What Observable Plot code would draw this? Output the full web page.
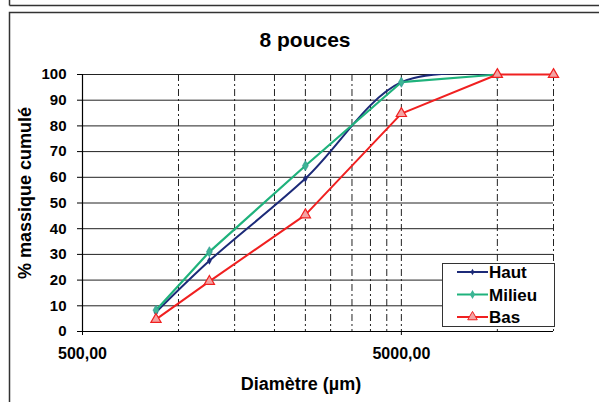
<!DOCTYPE html>
<html>
<head>
<meta charset="utf-8">
<script src="https://cdn.jsdelivr.net/npm/d3@7"></script>
<script src="https://cdn.jsdelivr.net/npm/@observablehq/plot@0.6"></script>
<style>
  body { margin: 0; background: #fff; }
  #chart { position: relative; width: 599px; height: 402px; overflow: hidden; }
</style>
</head>
<body>
<div id="chart"></div>
<script>
const title = "8 pouces";
const xTitle = "Diamètre (µm)";
const yTitle = "% massique cumulé";
const diam = [850, 1250, 2500, 5000, 10000, 15000];
const haut = [7.5, 27.5, 59.5, 97, 100];
const milieu = [8.3, 31, 64.5, 97, 100];
const bas = [4.7, 19.5, 45.4, 84.8, 100, 100];
const seriesNames = ["Haut", "Milieu", "Bas"];
const xTicks = [500, 5000];
const xGrid = [1000, 1500, 2000, 2500, 3000, 3500, 4000, 4500, 5000, 10000, 15000];
const yTicks = [0, 10, 20, 30, 40, 50, 60, 70, 80, 90, 100];

const colors = {Haut: "#1c2a78", Milieu: "#1fb27c", Bas: "#f02020"};
const toRows = (name, vals) => vals.map((v, i) => ({name, x: diam[i], y: v}));
const rowsH = toRows("Haut", haut);
const rowsM = toRows("Milieu", milieu);
const rowsB = toRows("Bas", bas);

const font = "'Liberation Sans', Arial, sans-serif";

const plot = Plot.plot({
  width: 599,
  height: 402,
  marginLeft: 82,
  marginRight: 46,
  marginTop: 74,
  marginBottom: 71,
  style: {fontFamily: font, background: "#fff", color: "#000"},
  x: {type: "log", domain: [500, 15000]},
  y: {domain: [0, 100]},
  marks: [
    Plot.ruleY(yTicks.filter(d => d > 0), {stroke: "#222", strokeWidth: 1}),
    Plot.ruleX(xGrid, {stroke: "#222", strokeWidth: 1, strokeDasharray: "7,3,2,3"}),
    Plot.ruleY([0], {stroke: "#000", strokeWidth: 1.2}),
    Plot.ruleX([500], {stroke: "#000", strokeWidth: 1.2}),
    Plot.line(rowsH, {x: "x", y: "y", stroke: colors.Haut, strokeWidth: 2, curve: "catmull-rom", clip: true}),
    Plot.dot(rowsH, {x: "x", y: "y", symbol: "diamond", r: 2.4, fill: colors.Haut}),
    Plot.line(rowsM, {x: "x", y: "y", stroke: colors.Milieu, strokeWidth: 2.2}),
    Plot.dot(rowsM, {x: "x", y: "y", symbol: "diamond", r: 3.1, fill: "#3cb595", stroke: "#2e8f8f", strokeWidth: 0.6}),
    Plot.line(rowsB, {x: "x", y: "y", stroke: colors.Bas, strokeWidth: 2}),
    Plot.dot(rowsB, {x: "x", y: "y", symbol: "triangle", r: 3.8, stroke: colors.Bas, fill: "#f3a3a3", strokeWidth: 1.2}),
    Plot.axisY({ticks: yTicks, tickSize: 5, tickPadding: 11, fontSize: 15, fontWeight: "bold", label: null}),
    Plot.axisX({ticks: xTicks, tickSize: 4, tickPadding: 12, fontSize: 16, fontWeight: "bold", label: null,
      tickFormat: d => d.toFixed(2).replace(".", ",")}),
    Plot.text([title], {frameAnchor: "top", lineAnchor: "middle", dy: -34, dx: -13, fontSize: 21, fontWeight: "bold"}),
    Plot.text([xTitle], {frameAnchor: "bottom", lineAnchor: "middle", dy: 53, dx: -17, fontSize: 18, fontWeight: "bold"}),
    Plot.text([yTitle], {frameAnchor: "left", textAnchor: "middle", lineAnchor: "middle", dx: -57, dy: -10, rotate: -90, fontSize: 18, fontWeight: "bold"})
  ]
});

const svg = d3.select(plot);
// outer chart frame
svg.insert("line", ":first-child").attr("x1", 9.5).attr("x2", 599).attr("y1", 5.5).attr("y2", 5.5).attr("stroke", "#333").attr("stroke-width", 1.5);
svg.insert("line", ":first-child").attr("x1", 9.5).attr("x2", 9.5).attr("y1", 0).attr("y2", 5.5).attr("stroke", "#333").attr("stroke-width", 1.5);
svg.insert("rect", ":first-child").attr("x", 9.5).attr("y", 12.5).attr("width", 600).attr("height", 400).attr("fill", "none").attr("stroke", "#333").attr("stroke-width", 1.5);

// legend
const lg = svg.append("g").attr("font-family", font).attr("font-size", 17).attr("font-weight", "bold").attr("text-anchor", "start");
lg.append("rect").attr("x", 442.5).attr("y", 263.5).attr("width", 112).attr("height", 63).attr("fill", "#fff").attr("stroke", "#333").attr("stroke-width", 1);
seriesNames.forEach((name, i) => {
  const cy = 272 + i * 22.5;
  lg.append("line").attr("x1", 457).attr("x2", 488).attr("y1", cy).attr("y2", cy).attr("stroke", colors[name]).attr("stroke-width", 2);
  const sym = name === "Bas" ? d3.symbolTriangle : d3.symbolDiamond;
  const size = name === "Bas" ? 40 : name === "Milieu" ? 24 : 12;
  lg.append("path").attr("d", d3.symbol(sym, size)()).attr("transform", `translate(472.5,${cy})`)
    .attr("fill", name === "Bas" ? "#f3a3a3" : name === "Milieu" ? "#3cb595" : colors.Haut)
    .attr("stroke", name === "Bas" ? colors.Bas : "none");
  lg.append("text").attr("x", 489).attr("y", cy).attr("dy", "0.36em").attr("text-anchor", "start").text(name);
});

document.getElementById("chart").appendChild(plot);
</script>
</body>
</html>
